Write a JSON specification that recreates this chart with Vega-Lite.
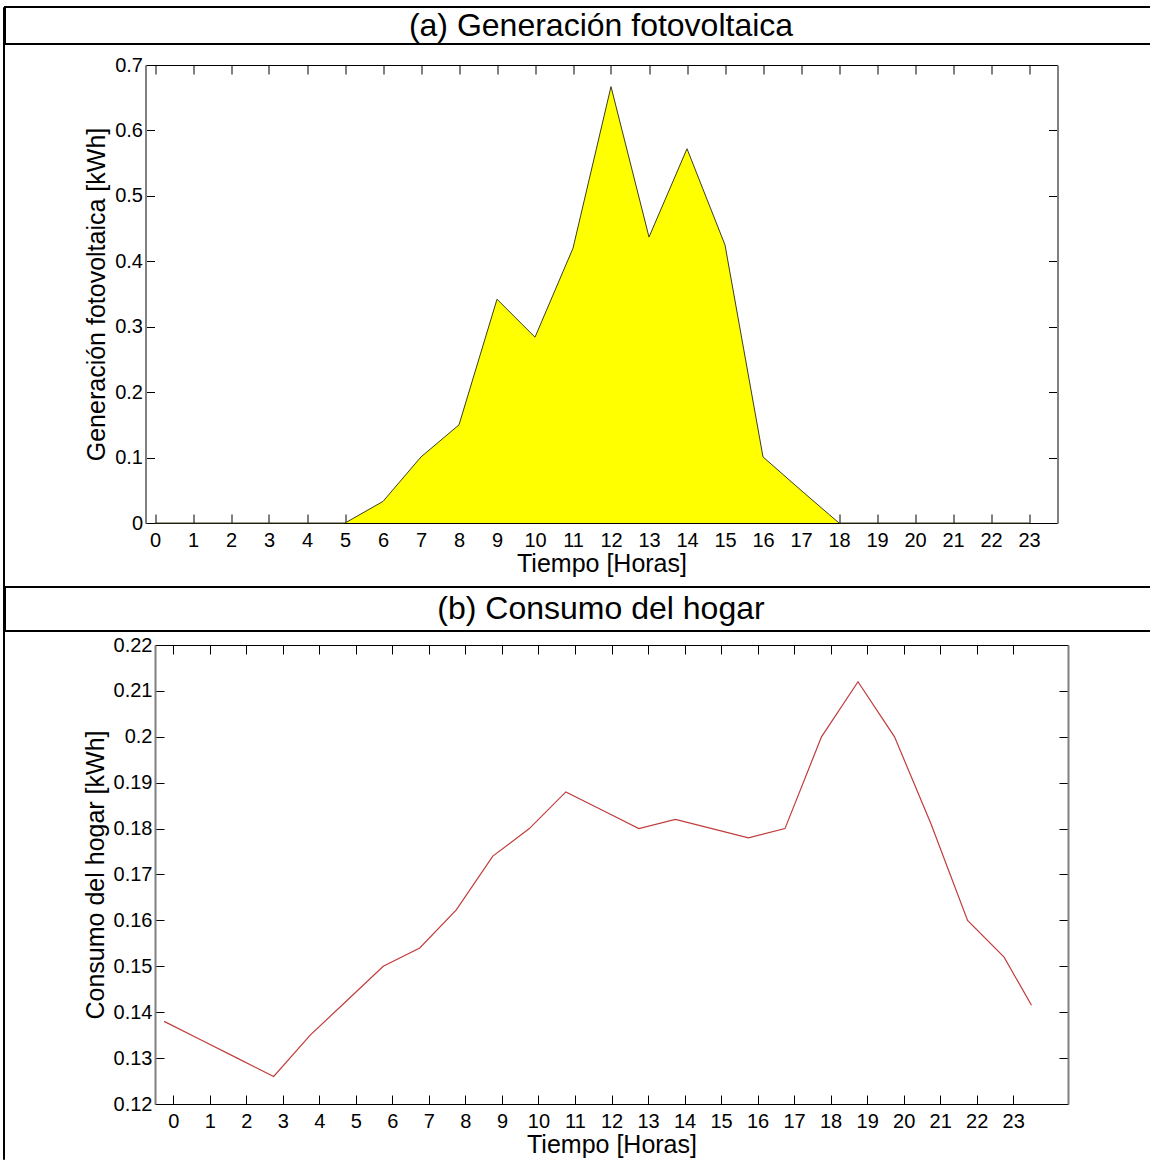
{
  "$schema": "https://vega.github.io/schema/vega-lite/v6.json",
  "padding": {"left": 2, "top": 6, "right": 0, "bottom": 0},
  "background": "white",
  "config": {
    "font": "Liberation Sans",
    "view": {"stroke": null},
    "axis": {"grid": false, "labelFont": "Liberation Sans", "titleFont": "Liberation Sans", "labelColor": "#000", "titleColor": "#000", "titleFontWeight": "normal", "labelFontSize": 20, "titleFontSize": 25}
  },
  "datasets": {
    "headA": [{"texto": "(a) Generación fotovoltaica"}],
    "headB": [{"texto": "(b) Consumo del hogar"}],
    "pv": [
      {"hora": 0, "generacion": 0}, {"hora": 1, "generacion": 0}, {"hora": 2, "generacion": 0}, {"hora": 3, "generacion": 0},
      {"hora": 4, "generacion": 0}, {"hora": 5, "generacion": 0}, {"hora": 6, "generacion": 0.033}, {"hora": 7, "generacion": 0.101},
      {"hora": 8, "generacion": 0.150}, {"hora": 9, "generacion": 0.342}, {"hora": 10, "generacion": 0.284}, {"hora": 11, "generacion": 0.420},
      {"hora": 12, "generacion": 0.667}, {"hora": 13, "generacion": 0.437}, {"hora": 14, "generacion": 0.572}, {"hora": 15, "generacion": 0.425},
      {"hora": 16, "generacion": 0.101}, {"hora": 17, "generacion": 0.050}, {"hora": 18, "generacion": 0}, {"hora": 19, "generacion": 0},
      {"hora": 20, "generacion": 0}, {"hora": 21, "generacion": 0}, {"hora": 22, "generacion": 0}, {"hora": 23, "generacion": 0}
    ],
    "load": [
      {"hora": -0.25, "consumo": 0.138}, {"hora": 0.75, "consumo": 0.134}, {"hora": 1.75, "consumo": 0.130}, {"hora": 2.75, "consumo": 0.126},
      {"hora": 3.75, "consumo": 0.135}, {"hora": 4.75, "consumo": 0.1425}, {"hora": 5.75, "consumo": 0.150}, {"hora": 6.75, "consumo": 0.154},
      {"hora": 7.75, "consumo": 0.1623}, {"hora": 8.75, "consumo": 0.174}, {"hora": 9.75, "consumo": 0.180}, {"hora": 10.75, "consumo": 0.188},
      {"hora": 11.75, "consumo": 0.184}, {"hora": 12.75, "consumo": 0.180}, {"hora": 13.75, "consumo": 0.182}, {"hora": 14.75, "consumo": 0.180},
      {"hora": 15.75, "consumo": 0.178}, {"hora": 16.75, "consumo": 0.180}, {"hora": 17.75, "consumo": 0.200}, {"hora": 18.75, "consumo": 0.212},
      {"hora": 19.75, "consumo": 0.200}, {"hora": 20.75, "consumo": 0.181}, {"hora": 21.75, "consumo": 0.160}, {"hora": 22.75, "consumo": 0.152},
      {"hora": 23.5, "consumo": 0.1415}
    ]
  },
  "hconcat": [
    {
      "data": {"values": [{"k": 1}]},
      "width": 1, "height": 1152,
      "view": {"stroke": "#000", "strokeWidth": 1},
      "mark": {"type": "point", "opacity": 0, "size": 1},
      "encoding": {}
    },
    {
      "vconcat": [
        {
          "vconcat": [
            {
              "data": {"name": "headA"},
              "width": 1146, "height": 37,
              "view": {"stroke": "#000", "strokeWidth": 2},
              "mark": {"type": "text", "fontSize": 32, "font": "Liberation Sans", "color": "#000", "dx": 23, "dy": 0, "baseline": "middle"},
              "encoding": {"text": {"field": "texto"}}
            },
            {
              "hconcat": [
                {
                  "data": {"values": [{"k": 1}]},
                  "width": 1, "height": 1,
                  "mark": {"type": "point", "opacity": 0, "size": 1},
                  "encoding": {}
                },
                {
                  "data": {"name": "pv"},
                  "width": 912, "height": 458,
                  "layer": [
                    {
                      "mark": {"type": "area", "color": "#ffff00", "opacity": 1},
                      "encoding": {
                        "x": {"field": "hora", "type": "quantitative", "scale": {"domain": [-0.25, 23.75], "nice": false, "zero": false},
                          "axis": {"orient": "bottom", "values": [0,1,2,3,4,5,6,7,8,9,10,11,12,13,14,15,16,17,18,19,20,21,22,23], "format": "d", "tickSize": -9, "tickColor": "#000", "domainColor": "#000", "domainWidth": 1, "labelPadding": 16, "labelFlush": false, "labelOverlap": false, "labelAngle": 0, "title": "Tiempo [Horas]", "titlePadding": 1}},
                        "y": {"field": "generacion", "type": "quantitative", "scale": {"domain": [0, 0.7], "nice": false},
                          "axis": {"orient": "left", "values": [0,0.1,0.2,0.3,0.4,0.5,0.6,0.7], "format": "~g", "tickSize": -9, "tickColor": "#000", "domainColor": "#808080", "domainWidth": 2, "labelPadding": 12, "labelFlush": false, "labelOverlap": false, "title": "Generación fotovoltaica [kWh]", "titlePadding": 5}}
                      }
                    },
                    {
                      "mark": {"type": "line", "color": "#3d3d1f", "strokeWidth": 1},
                      "encoding": {
                        "x": {"field": "hora", "type": "quantitative",
                          "axis": {"orient": "top", "values": [0,1,2,3,4,5,6,7,8,9,10,11,12,13,14,15,16,17,18,19,20,21,22,23], "labels": false, "tickSize": -9, "tickColor": "#000", "domainColor": "#000", "domainWidth": 1, "title": null}},
                        "y": {"field": "generacion", "type": "quantitative",
                          "axis": {"orient": "right", "values": [0,0.1,0.2,0.3,0.4,0.5,0.6,0.7], "labels": false, "tickSize": -9, "tickColor": "#000", "domainColor": "#808080", "domainWidth": 2, "title": null}}
                      }
                    }
                  ],
                  "resolve": {"axis": {"x": "independent", "y": "independent"}}
                }
              ],
              "spacing": 78.5
            }
          ],
          "spacing": 10
        },
        {
          "vconcat": [
            {
              "data": {"name": "headB"},
              "width": 1146, "height": 44,
              "view": {"stroke": "#000", "strokeWidth": 2},
              "mark": {"type": "text", "fontSize": 32, "font": "Liberation Sans", "color": "#000", "dx": 23, "baseline": "middle"},
              "encoding": {"text": {"field": "texto"}}
            },
            {
              "hconcat": [
                {
                  "data": {"values": [{"k": 1}]},
                  "width": 1, "height": 1,
                  "mark": {"type": "point", "opacity": 0, "size": 1},
                  "encoding": {}
                },
                {
                  "data": {"name": "load"},
                  "width": 913, "height": 459,
                  "layer": [
                    {
                      "mark": {"type": "line", "color": "#c03c3c", "strokeWidth": 1.2},
                      "encoding": {
                        "x": {"field": "hora", "type": "quantitative", "scale": {"domain": [-0.5, 24.5], "nice": false, "zero": false},
                          "axis": {"orient": "bottom", "values": [0,1,2,3,4,5,6,7,8,9,10,11,12,13,14,15,16,17,18,19,20,21,22,23], "format": "d", "tickSize": -9, "tickColor": "#000", "domainColor": "#000", "domainWidth": 1, "labelPadding": 16, "labelFlush": false, "labelOverlap": false, "labelAngle": 0, "title": "Tiempo [Horas]", "titlePadding": 1}},
                        "y": {"field": "consumo", "type": "quantitative", "scale": {"domain": [0.12, 0.22], "nice": false, "zero": false},
                          "axis": {"orient": "left", "values": [0.12,0.13,0.14,0.15,0.16,0.17,0.18,0.19,0.2,0.21,0.22], "format": "~g", "tickSize": -9, "tickColor": "#000", "domainColor": "#808080", "domainWidth": 2, "labelPadding": 12, "labelFlush": false, "labelOverlap": false, "title": "Consumo del hogar [kWh]", "titlePadding": 5}}
                      }
                    },
                    {
                      "mark": {"type": "line", "color": "#c03c3c", "strokeOpacity": 0},
                      "encoding": {
                        "x": {"field": "hora", "type": "quantitative",
                          "axis": {"orient": "top", "values": [0,1,2,3,4,5,6,7,8,9,10,11,12,13,14,15,16,17,18,19,20,21,22,23], "labels": false, "tickSize": -9, "tickColor": "#000", "domainColor": "#000", "domainWidth": 1, "title": null}},
                        "y": {"field": "consumo", "type": "quantitative",
                          "axis": {"orient": "right", "values": [0.12,0.13,0.14,0.15,0.16,0.17,0.18,0.19,0.2,0.21,0.22], "labels": false, "tickSize": -9, "tickColor": "#000", "domainColor": "#808080", "domainWidth": 2, "title": null}}
                      }
                    }
                  ],
                  "resolve": {"axis": {"x": "independent", "y": "independent"}}
                }
              ],
              "spacing": 77
            }
          ],
          "spacing": 3
        }
      ],
      "spacing": 10
    }
  ],
  "spacing": -2
}
